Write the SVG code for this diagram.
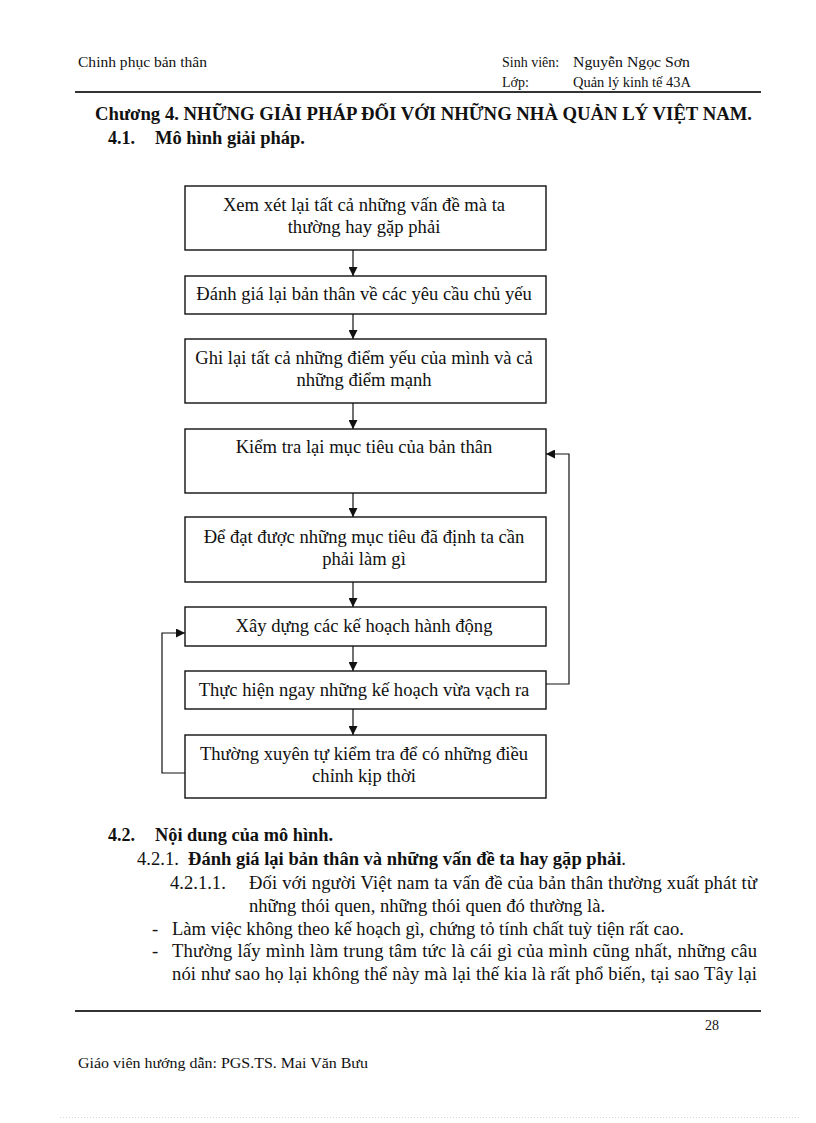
<svg xmlns="http://www.w3.org/2000/svg" width="816" height="1123" viewBox="0 0 816 1123">
<style>
text{font-family:"Liberation Serif","Times New Roman",serif;fill:#111}
.hd{font-size:14px}
.ti{font-size:18px;font-weight:bold}
.bx{fill:#fff;stroke:#111;stroke-width:1.4}
.bt{font-size:18.6px;text-anchor:middle}
.body{font-size:18.6px}
.cn{fill:none;stroke:#111;stroke-width:1.2}
.rule{stroke:#333;stroke-width:2}
</style>
<defs>
<marker id="ah" markerWidth="9" markerHeight="9" refX="9" refY="4.5" orient="auto" markerUnits="userSpaceOnUse">
<path d="M0,0 L9,4.5 L0,9 Z" fill="#111"/>
</marker>
</defs>
<rect width="816" height="1123" fill="#fff"/>

<g id="header">
<text class="hd" x="78" y="67" textLength="129" lengthAdjust="spacingAndGlyphs">Chinh  phục bản thân</text>
<text class="hd" x="502" y="67">Sinh viên:</text>
<text class="hd" x="573" y="67" textLength="117" lengthAdjust="spacingAndGlyphs">Nguyễn  Ngọc Sơn</text>
<text class="hd" x="502" y="87">Lớp:</text>
<text class="hd" x="573" y="87" textLength="118" lengthAdjust="spacingAndGlyphs">Quản lý kinh tế 43A</text>
<line class="rule" x1="75" y1="92" x2="761" y2="92"/>
</g>

<g id="title">
<text class="ti" x="95" y="120" textLength="657" lengthAdjust="spacingAndGlyphs">Chương 4. NHỮNG GIẢI PHÁP ĐỐI VỚI NHỮNG NHÀ QUẢN LÝ VIỆT NAM.</text>
<text class="ti" x="108" y="144">4.1.</text>
<text class="ti" x="155" y="144" textLength="150" lengthAdjust="spacingAndGlyphs">Mô hình giải pháp.</text>
</g>

<g id="connectors">
<line class="cn" x1="353" y1="250" x2="353" y2="276" marker-end="url(#ah)"/>
<line class="cn" x1="353" y1="314" x2="353" y2="339" marker-end="url(#ah)"/>
<line class="cn" x1="353" y1="403" x2="353" y2="429" marker-end="url(#ah)"/>
<line class="cn" x1="353" y1="493" x2="353" y2="517" marker-end="url(#ah)"/>
<line class="cn" x1="353" y1="582" x2="353" y2="607" marker-end="url(#ah)"/>
<line class="cn" x1="353" y1="646" x2="353" y2="671" marker-end="url(#ah)"/>
<line class="cn" x1="353" y1="709" x2="353" y2="735" marker-end="url(#ah)"/>
<polyline class="cn" points="546,684 569,684 569,454 546,454" marker-end="url(#ah)"/>
<polyline class="cn" points="185,773 162,773 162,633 185,633" marker-end="url(#ah)"/>
</g>

<g id="n1">
<rect class="bx" x="185" y="186" width="361" height="64"/>
<text class="bt" x="364" y="211">Xem xét lại tất cả những vấn đề mà ta</text>
<text class="bt" x="364" y="233">thường hay gặp phải</text>
</g>
<g id="n2">
<rect class="bx" x="185" y="276" width="361" height="38"/>
<text class="bt" x="364" y="300">Đánh giá lại bản thân về các yêu cầu chủ yếu</text>
</g>
<g id="n3">
<rect class="bx" x="185" y="339" width="361" height="64"/>
<text class="bt" x="364" y="364">Ghi lại tất cả những điểm yếu của mình và cả</text>
<text class="bt" x="364" y="386">những điểm mạnh</text>
</g>
<g id="n4">
<rect class="bx" x="185" y="429" width="361" height="64"/>
<text class="bt" x="364" y="453">Kiểm tra lại mục tiêu của bản thân</text>
</g>
<g id="n5">
<rect class="bx" x="185" y="517" width="361" height="65"/>
<text class="bt" x="364" y="543">Để đạt được những mục tiêu đã định ta cần</text>
<text class="bt" x="364" y="565">phải làm gì</text>
</g>
<g id="n6">
<rect class="bx" x="185" y="607" width="361" height="39"/>
<text class="bt" x="364" y="632">Xây dựng các kế hoạch hành động</text>
</g>
<g id="n7">
<rect class="bx" x="185" y="671" width="361" height="38"/>
<text class="bt" x="364" y="696">Thực hiện ngay những kế hoạch vừa vạch ra</text>
</g>
<g id="n8">
<rect class="bx" x="185" y="735" width="361" height="63"/>
<text class="bt" x="364" y="760">Thường xuyên tự kiểm tra để có những điều</text>
<text class="bt" x="364" y="782">chỉnh kịp thời</text>
</g>

<g id="section42">
<text class="ti" x="108" y="841">4.2.</text>
<text class="ti" x="155" y="841" textLength="178" lengthAdjust="spacingAndGlyphs">Nội dung của mô hình.</text>
<text class="body" x="137" y="865">4.2.1.</text>
<text class="body" x="188" y="865" textLength="438" lengthAdjust="spacingAndGlyphs"><tspan font-weight="bold">Đánh giá lại bản thân và những vấn đề ta hay gặp phải</tspan>.</text>
<text class="body" x="170" y="889">4.2.1.1.</text>
<text class="body" x="249" y="889" textLength="508" lengthAdjust="spacing">Đối với người Việt nam ta vấn đề của bản thân thường xuất phát từ</text>
<text class="body" x="249" y="912">những thói quen, những thói quen đó thường là.</text>
<text class="body" x="152" y="935">-</text>
<text class="body" x="172" y="935">Làm việc không theo kế hoạch gì, chứng tỏ tính chất tuỳ tiện rất cao.</text>
<text class="body" x="152" y="957">-</text>
<text class="body" x="172" y="957" textLength="585" lengthAdjust="spacing">Thường lấy mình làm trung tâm tức là cái gì của mình cũng nhất, những câu</text>
<text class="body" x="172" y="980" textLength="585" lengthAdjust="spacing">nói như sao họ lại không thể này mà lại thế kia là rất phổ biến, tại sao Tây lại</text>
</g>

<g id="footer">
<line class="rule" x1="75" y1="1011" x2="761" y2="1011"/>
<text class="hd" x="705" y="1030">28</text>
<text class="hd" x="78" y="1068" textLength="290" lengthAdjust="spacingAndGlyphs">Giáo viên hướng  dẫn: PGS.TS. Mai Văn Bưu</text>
<line x1="60" y1="1117.5" x2="800" y2="1117.5" stroke="#cfd8cf" stroke-width="1" stroke-dasharray="1,2"/>
</g>
</svg>
